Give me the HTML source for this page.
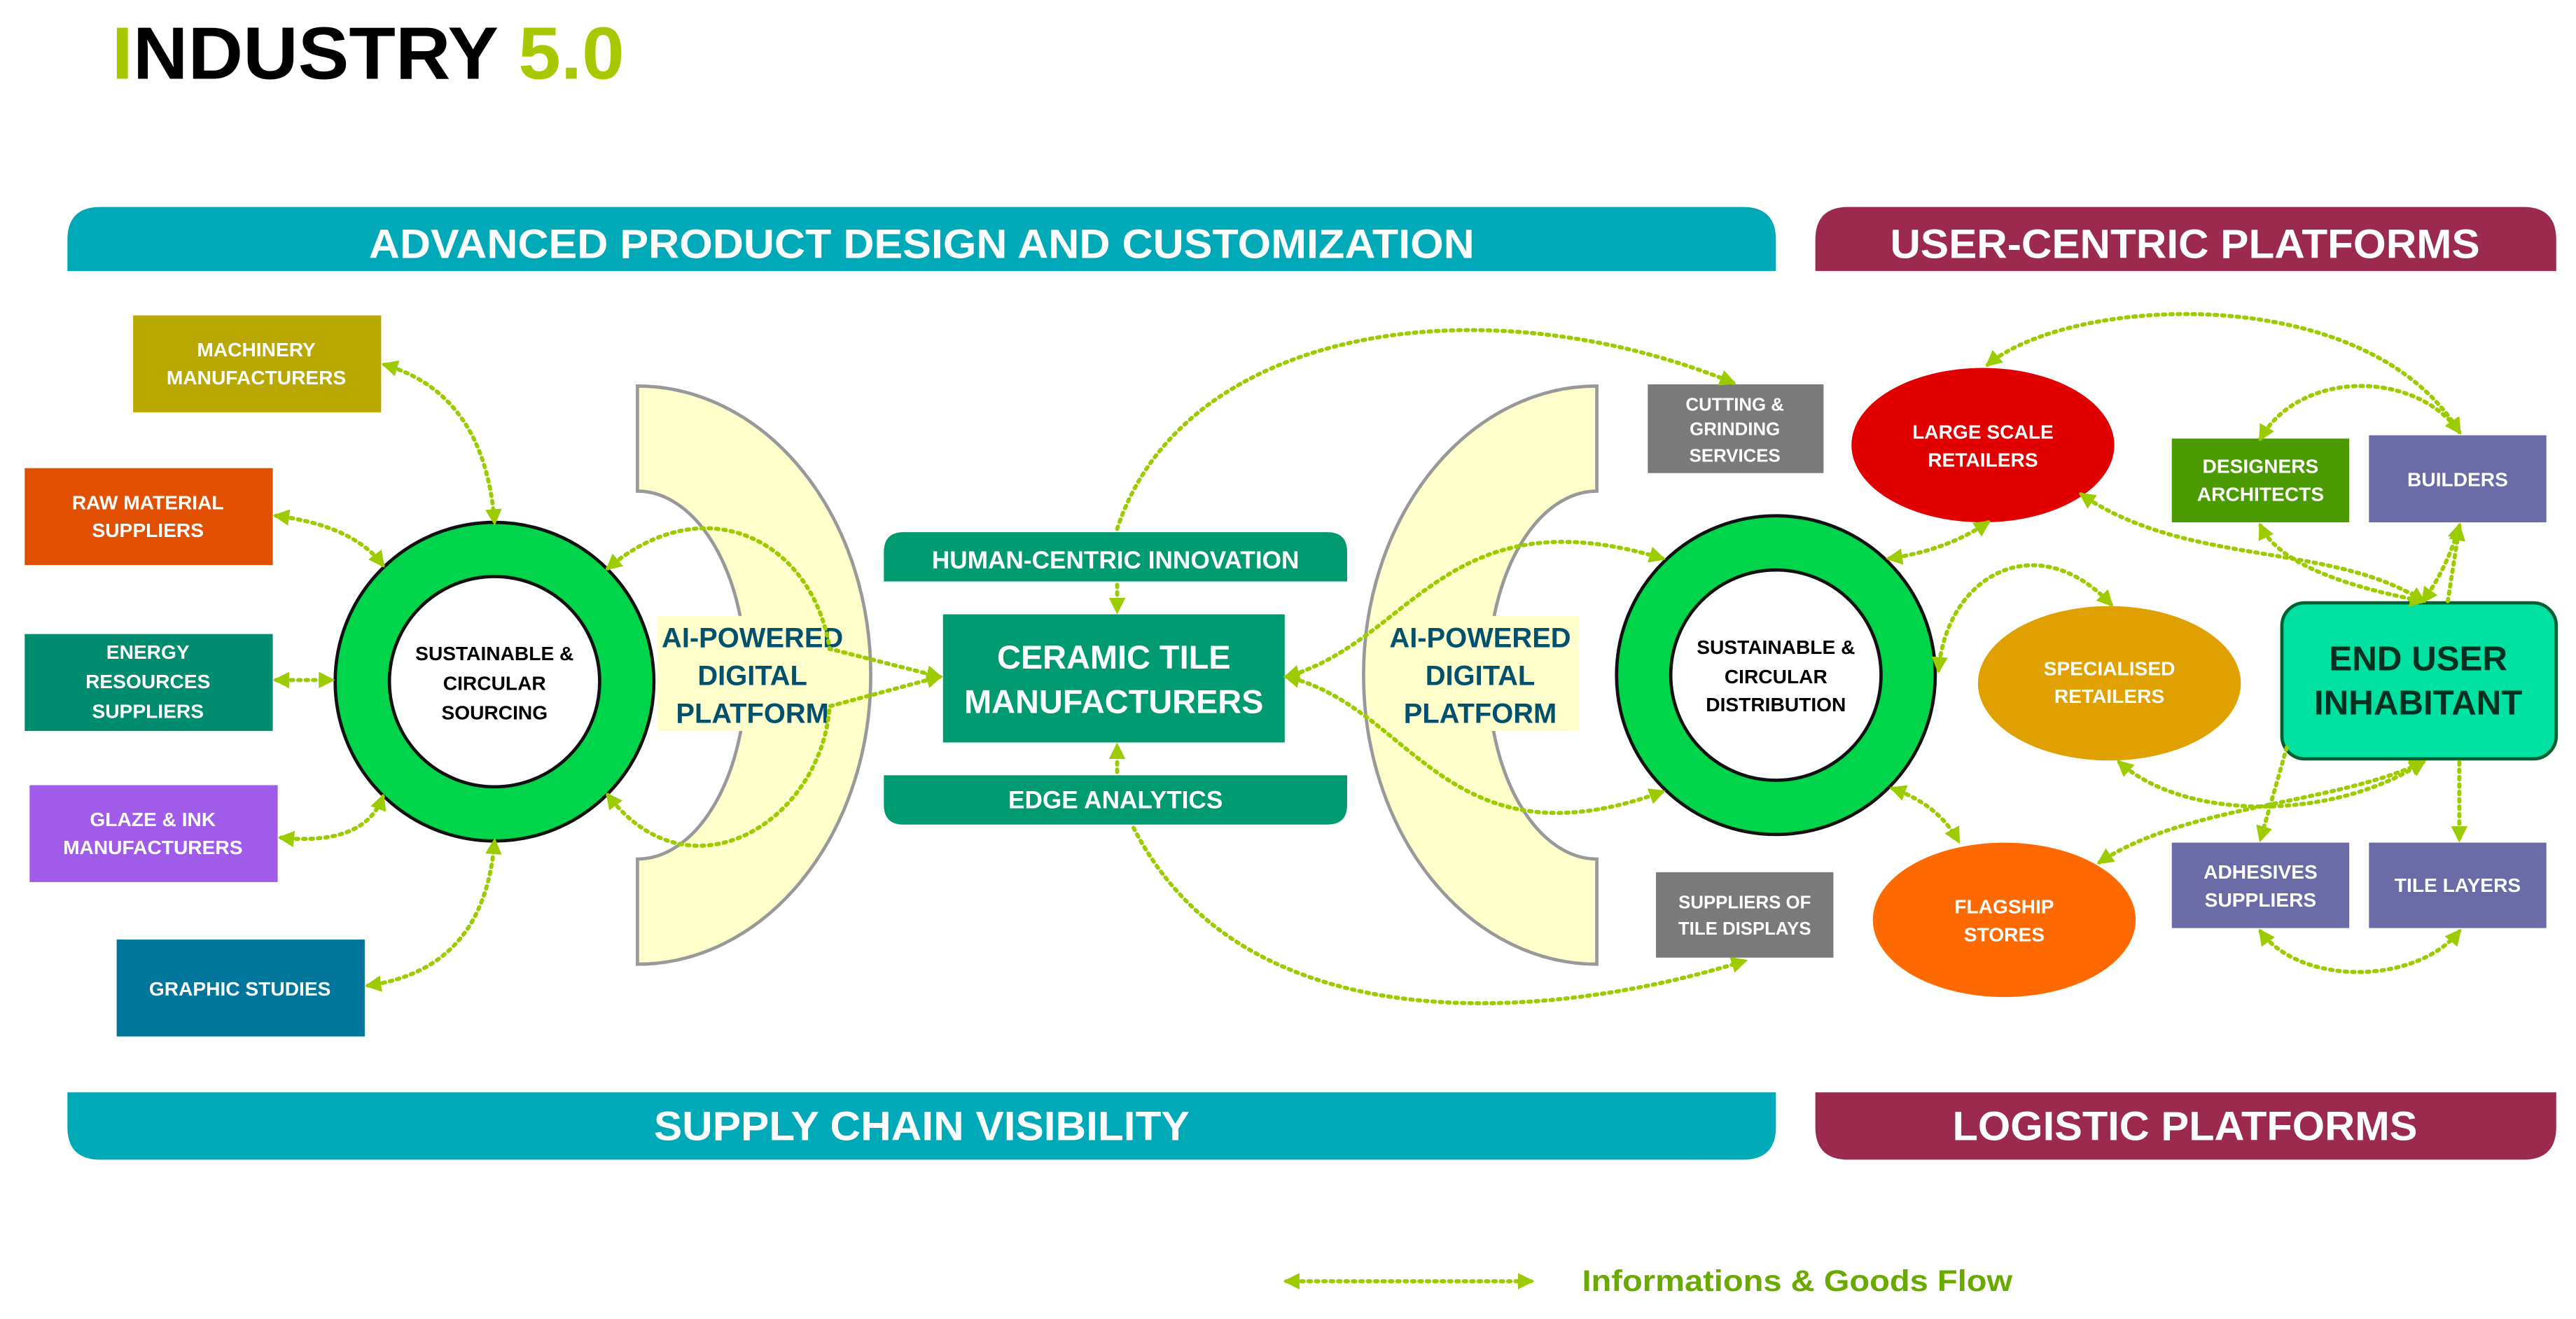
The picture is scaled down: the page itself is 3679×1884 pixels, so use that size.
<!DOCTYPE html>
<html><head><meta charset="utf-8"><style>
html,body{margin:0;padding:0;background:#fff;}
svg{display:block;}
text{font-family:"Liberation Sans",Arial,sans-serif;font-weight:bold;}
</style></head><body>
<svg width="3679" height="1884" viewBox="0 0 1568 803" xmlns="http://www.w3.org/2000/svg">
<defs>
<marker id="a" viewBox="0 0 10 10" refX="8" refY="5" markerWidth="4" markerHeight="4" orient="auto-start-reverse" markerUnits="strokeWidth">
<path d="M0,0 L10,5 L0,10 Z" fill="#9ccc00"/></marker>
</defs>
<rect width="1568" height="803" fill="#fff"/>
<text x="68" y="48" font-size="45" textLength="312" lengthAdjust="spacingAndGlyphs"><tspan fill="#a8c800">I</tspan><tspan fill="#000">NDUSTRY </tspan><tspan fill="#a8c800">5.0</tspan></text>

<path d="M61,126 H1061 Q1081,126 1081,146 V165 H41 V146 Q41,126 61,126Z" fill="#00a9b7"/>
<text x="561" y="157" font-size="25" fill="#fff" text-anchor="middle" textLength="673" lengthAdjust="spacingAndGlyphs">ADVANCED PRODUCT DESIGN AND CUSTOMIZATION</text>
<path d="M1125,126 H1536 Q1556,126 1556,146 V165 H1105 V146 Q1105,126 1125,126Z" fill="#9b2a4e"/>
<text x="1330" y="157" font-size="25" fill="#fff" text-anchor="middle" textLength="359" lengthAdjust="spacingAndGlyphs">USER-CENTRIC PLATFORMS</text>
<path d="M41,665 H1081 V686 Q1081,706 1061,706 H61 Q41,706 41,686Z" fill="#00a9b7"/>
<text x="561" y="694" font-size="25" fill="#fff" text-anchor="middle" textLength="326" lengthAdjust="spacingAndGlyphs">SUPPLY CHAIN VISIBILITY</text>
<path d="M1105,665 H1556 V686 Q1556,706 1536,706 H1125 Q1105,706 1105,686Z" fill="#9b2a4e"/>
<text x="1330" y="694" font-size="25" fill="#fff" text-anchor="middle" textLength="283" lengthAdjust="spacingAndGlyphs">LOGISTIC PLATFORMS</text>

<path d="M388,235 A142,176 0 0 1 388,587 L388,523 A66,112 0 0 0 388,299 Z" fill="#ffffcc" stroke="#999" stroke-width="2"/>
<path d="M972,235 A142,176 0 0 0 972,587 L972,523 A66,112 0 0 1 972,299 Z" fill="#ffffcc" stroke="#999" stroke-width="2"/>

<g font-size="12" fill="#fff" text-anchor="middle">
<rect x="81" y="192" width="151" height="59" fill="#b8a800"/>
<text x="156" y="217">MACHINERY</text><text x="156" y="234">MANUFACTURERS</text>
<rect x="15" y="285" width="151" height="59" fill="#e05000"/>
<text x="90" y="310">RAW MATERIAL</text><text x="90" y="327">SUPPLIERS</text>
<rect x="15" y="386" width="151" height="59" fill="#008c6e"/>
<text x="90" y="401">ENERGY</text><text x="90" y="419">RESOURCES</text><text x="90" y="437">SUPPLIERS</text>
<rect x="18" y="478" width="151" height="59" fill="#a05ce8"/>
<text x="93" y="503">GLAZE &amp; INK</text><text x="93" y="520">MANUFACTURERS</text>
<rect x="71" y="572" width="151" height="59" fill="#00769a"/>
<text x="146" y="606">GRAPHIC STUDIES</text>
</g>

<circle cx="301" cy="415" r="97" fill="#00d44a" stroke="#111" stroke-width="2"/>
<circle cx="301" cy="415" r="64" fill="#fff" stroke="#111" stroke-width="2"/>
<g font-size="12" fill="#000" text-anchor="middle">
<text x="301" y="402">SUSTAINABLE &amp;</text><text x="301" y="420">CIRCULAR</text><text x="301" y="438">SOURCING</text>
</g>
<circle cx="1081" cy="411" r="97" fill="#00d44a" stroke="#111" stroke-width="2"/>
<circle cx="1081" cy="411" r="64" fill="#fff" stroke="#111" stroke-width="2"/>
<g font-size="12" fill="#000" text-anchor="middle">
<text x="1081" y="398">SUSTAINABLE &amp;</text><text x="1081" y="416">CIRCULAR</text><text x="1081" y="433">DISTRIBUTION</text>
</g>

<rect x="400" y="375" width="118" height="70" fill="#ffffcc"/>
<rect x="843" y="375" width="118" height="70" fill="#ffffcc"/>
<g font-size="17" fill="#00506e" text-anchor="middle">
<text x="458" y="394">AI-POWERED</text><text x="458" y="417">DIGITAL</text><text x="458" y="440">PLATFORM</text>
<text x="901" y="394">AI-POWERED</text><text x="901" y="417">DIGITAL</text><text x="901" y="440">PLATFORM</text>
</g>

<path d="M550,324 H808 Q820,324 820,336 V354 H538 V336 Q538,324 550,324Z" fill="#009a70"/>
<text x="679" y="346" font-size="15" fill="#fff" text-anchor="middle">HUMAN-CENTRIC INNOVATION</text>
<rect x="574" y="374" width="208" height="78" fill="#009a70"/>
<text x="678" y="407" font-size="20" fill="#fff" text-anchor="middle">CERAMIC TILE</text>
<text x="678" y="434" font-size="20" fill="#fff" text-anchor="middle">MANUFACTURERS</text>
<path d="M538,472 H820 V490 Q820,502 808,502 H550 Q538,502 538,490Z" fill="#009a70"/>
<text x="679" y="492" font-size="15" fill="#fff" text-anchor="middle">EDGE ANALYTICS</text>

<g font-size="11" fill="#fff" text-anchor="middle">
<rect x="1003" y="234" width="107" height="54" fill="#7a7a7a"/>
<text x="1056" y="250">CUTTING &amp;</text><text x="1056" y="265">GRINDING</text><text x="1056" y="281">SERVICES</text>
<rect x="1008" y="531" width="108" height="52" fill="#7a7a7a"/>
<text x="1062" y="553">SUPPLIERS OF</text><text x="1062" y="569">TILE DISPLAYS</text>
</g>

<g font-size="12" fill="#fff" text-anchor="middle">
<ellipse cx="1207" cy="271" rx="80" ry="47" fill="#e00000"/>
<text x="1207" y="267">LARGE SCALE</text><text x="1207" y="284">RETAILERS</text>
<ellipse cx="1284" cy="416" rx="80" ry="47" fill="#e0a000"/>
<text x="1284" y="411">SPECIALISED</text><text x="1284" y="428">RETAILERS</text>
<ellipse cx="1220" cy="560" rx="80" ry="47" fill="#ff6a00"/>
<text x="1220" y="556">FLAGSHIP</text><text x="1220" y="573">STORES</text>
<rect x="1322" y="267" width="108" height="51" fill="#4a9a00"/>
<text x="1376" y="288">DESIGNERS</text><text x="1376" y="305">ARCHITECTS</text>
<rect x="1442" y="265" width="108" height="53" fill="#6b6ba8"/>
<text x="1496" y="296">BUILDERS</text>
<rect x="1322" y="513" width="108" height="52" fill="#6b6ba8"/>
<text x="1376" y="535">ADHESIVES</text><text x="1376" y="552">SUPPLIERS</text>
<rect x="1442" y="513" width="108" height="52" fill="#6b6ba8"/>
<text x="1496" y="543">TILE LAYERS</text>
</g>
<rect x="1389" y="367" width="167" height="95" rx="14" fill="#00e0a0" stroke="#006030" stroke-width="2"/>
<text x="1472" y="408" font-size="21" fill="#003020" text-anchor="middle">END USER</text>
<text x="1472" y="435" font-size="21" fill="#003020" text-anchor="middle">INHABITANT</text>

<g fill="none" stroke="#9ccc00" stroke-width="2.5" stroke-dasharray="1.5 3" stroke-linecap="round" marker-start="url(#a)" marker-end="url(#a)">
<path d="M234,222 Q295,240 301,318"/>
<path d="M168,314 Q215,320 233,344"/>
<path d="M168,414 L202,414"/>
<path d="M171,510 Q222,515 233,485"/>
<path d="M224,600 Q295,590 301,512"/>
<path d="M370,346 C430,295 495,330 505,395 L572,412"/>
<path d="M370,484 C420,550 500,500 505,430 L572,412"/>
<path d="M783,412 C860,390 880,300 1012,340"/>
<path d="M783,412 C860,430 880,530 1012,482"/>
<path d="M1150,340 Q1185,335 1210,318"/>
<path d="M1180,408 C1185,350 1240,320 1285,368"/>
<path d="M1152,480 Q1180,490 1192,512"/>
<path d="M1210,222 C1260,180 1440,170 1497,263"/>
<path d="M1376,267 C1400,225 1470,225 1497,263"/>
<path d="M1267,301 C1330,345 1420,330 1475,366"/>
<path d="M1376,320 Q1390,350 1475,366"/>
<path d="M1497,320 Q1490,345 1475,366"/>
<path d="M1278,525 C1330,490 1420,490 1475,464"/>
<path d="M1290,464 C1330,500 1420,500 1475,464"/>
<path d="M1376,567 C1400,600 1470,600 1497,567"/>
</g>
<g fill="none" stroke="#9ccc00" stroke-width="2.5" stroke-dasharray="1.5 3" stroke-linecap="round" marker-end="url(#a)">
<path d="M680,356 L680,372"/>
<path d="M680,470 L680,454"/>
<path d="M680,322 C720,200 900,170 1055,233"/>
<path d="M690,504 C760,640 950,620 1062,585"/>
<path d="M1392,455 L1376,511"/>
<path d="M1497,464 L1497,511"/>
<path d="M1490,366 L1497,321"/>
</g>

<path d="M783,780 L932,780" fill="none" stroke="#9ccc00" stroke-width="2.5" stroke-dasharray="1.5 3" stroke-linecap="round" marker-start="url(#a)" marker-end="url(#a)"/>
<text x="963" y="786" font-size="18" fill="#6aaa00" textLength="262" lengthAdjust="spacingAndGlyphs">Informations &amp; Goods Flow</text>
</svg>
</body></html>
